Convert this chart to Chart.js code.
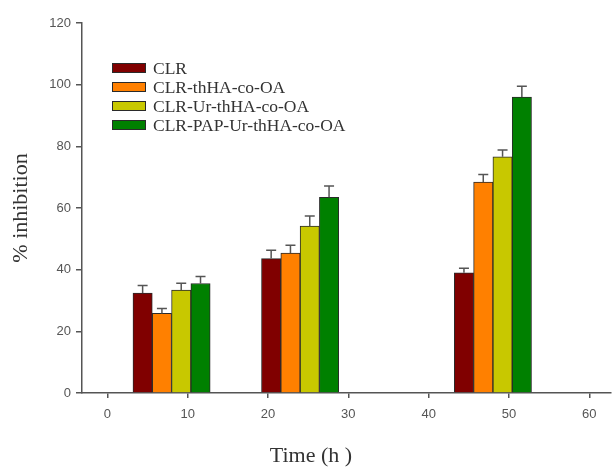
<!DOCTYPE html>
<html>
<head>
<meta charset="utf-8">
<script src="https://cdn.jsdelivr.net/npm/chart.js@4/dist/chart.umd.min.js"></script>
<style>
  html, body { margin: 0; padding: 0; background: #fff; }
</style>
</head>
<body>
<canvas id="inhibition" width="612" height="468"></canvas>
<script>
// time points (h)
var times = [8, 24, 48];
var seriesNames = ['CLR', 'CLR-thHA-co-OA', 'CLR-Ur-thHA-co-OA', 'CLR-PAP-Ur-thHA-co-OA'];
var seriesColors = ['#800000', '#ff8000', '#c8c800', '#008000'];

// % inhibition and error for each formulation
var clr = [32.4, 43.6, 39.0];
var clrErr = [2.5, 2.7, 1.5];
var thHA = [25.8, 45.4, 68.4];
var thHAErr = [1.6, 2.5, 2.5];
var urThHA = [33.4, 54.1, 76.6];
var urThHAErr = [2.2, 3.3, 2.2];
var papUrThHA = [35.5, 63.5, 96.0];
var papUrThHAErr = [2.3, 3.6, 3.5];

var xTicks = [0, 10, 20, 30, 40, 50, 60];
var yTicks = [0, 20, 40, 60, 80, 100, 120];

var values = [clr, thHA, urThHA, papUrThHA];
var errors = [clrErr, thHAErr, urThHAErr, papUrThHAErr];

function toPoints(vals) {
    return times.map(function (t, i) { return { x: t, y: vals[i] }; });
}

var datasets = values.map(function (vals, d) {
    return {
        label: seriesNames[d],
        data: toPoints(vals),
        errors: errors[d],
        backgroundColor: seriesColors[d],
        borderColor: '#2a2a2a',
        borderWidth: 1
    };
});

// error bars drawn on top of each bar, using the y scale
var errorBars = {
    id: 'errorBars',
    afterDatasetsDraw: function (chart) {
        var ctx = chart.ctx;
        var yScale = chart.scales.y;
        chart.data.datasets.forEach(function (ds, d) {
            var meta = chart.getDatasetMeta(d);
            meta.data.forEach(function (bar, i) {
                var top = yScale.getPixelForValue(ds.data[i].y + ds.errors[i]);
                ctx.save();
                ctx.strokeStyle = '#555';
                ctx.lineWidth = 1.5;
                ctx.beginPath();
                ctx.moveTo(bar.x, bar.y);
                ctx.lineTo(bar.x, top);
                ctx.moveTo(bar.x - 5, top);
                ctx.lineTo(bar.x + 5, top);
                ctx.stroke();
                ctx.restore();
            });
        });
    }
};

// legend inside the plot, top left
var insideLegend = {
    id: 'insideLegend',
    afterDraw: function (chart) {
        var ctx = chart.ctx;
        var area = chart.chartArea;
        var x = area.left + 30;
        var y = area.top + 40;
        ctx.save();
        ctx.font = '17.5px "Liberation Serif", "Times New Roman", serif';
        ctx.textBaseline = 'middle';
        chart.data.datasets.forEach(function (ds, d) {
            var rowY = y + d * 19;
            ctx.fillStyle = ds.backgroundColor;
            ctx.fillRect(x, rowY, 34, 10);
            ctx.strokeStyle = '#2a2a2a';
            ctx.lineWidth = 1;
            ctx.strokeRect(x + 0.5, rowY + 0.5, 33, 9);
            ctx.fillStyle = '#333';
            ctx.fillText(ds.label, x + 41, rowY + 6);
        });
        ctx.restore();
    }
};

// x axis title, placed as in the original figure
var xTitle = {
    id: 'xTitle',
    afterDraw: function (chart) {
        var ctx = chart.ctx;
        var area = chart.chartArea;
        ctx.save();
        ctx.font = '22px "Liberation Serif", "Times New Roman", serif';
        ctx.fillStyle = '#333';
        ctx.textAlign = 'center';
        ctx.textBaseline = 'middle';
        ctx.fillText('Time (h )', area.left + 229, area.bottom + 63);
        ctx.restore();
    }
};

var tickFont = { family: '"Liberation Sans", Arial, sans-serif', size: 13 };

new Chart(document.getElementById('inhibition'), {
    type: 'bar',
    data: { datasets: datasets },
    options: {
        responsive: false,
        animation: false,
        barThickness: 19.3,
        layout: { padding: { top: 23, right: 1, left: 0, bottom: 0 } },
        plugins: {
            legend: { display: false },
            tooltip: { enabled: false }
        },
        scales: {
            x: {
                type: 'linear',
                min: -3.15,
                max: 62.7,
                offset: false,
                afterBuildTicks: function (scale) {
                    scale.ticks = xTicks.map(function (v) { return { value: v }; });
                },
                afterFit: function (scale) { scale.height = 75; },
                ticks: { font: tickFont, color: '#555', padding: 9 },
                grid: { display: true, offset: false, drawOnChartArea: false, drawTicks: true, tickLength: 5, color: '#555', lineWidth: 1.5 },
                border: { display: true, color: '#555', width: 1.5 }
            },
            y: {
                min: 0,
                max: 120,
                afterBuildTicks: function (scale) {
                    scale.ticks = yTicks.map(function (v) { return { value: v }; });
                },
                afterFit: function (scale) { scale.width = 82; },
                ticks: { font: tickFont, color: '#555', padding: 5 },
                grid: { display: true, drawOnChartArea: false, drawTicks: true, tickLength: 6, color: '#555', lineWidth: 1.5 },
                border: { display: true, color: '#555', width: 1.5 },
                title: {
                    display: true,
                    text: '% inhibition',
                    color: '#333',
                    font: { family: '"Liberation Serif", "Times New Roman", serif', size: 22 },
                    padding: { top: 8, bottom: 0 }
                }
            }
        }
    },
    plugins: [errorBars, insideLegend, xTitle]
});
</script>
</body>
</html>
